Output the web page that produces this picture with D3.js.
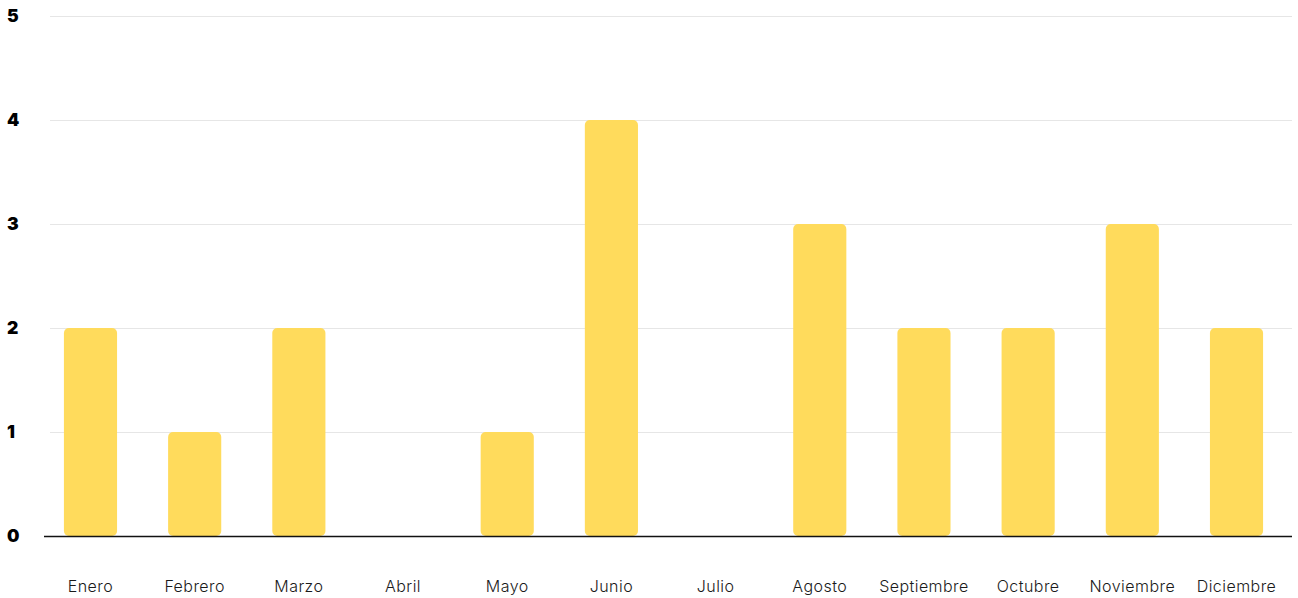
<!DOCTYPE html>
<html>
<head>
<meta charset="utf-8">
<script src="https://cdn.jsdelivr.net/npm/d3@7"></script>
<style>
  html, body { margin: 0; padding: 0; background: #ffffff; }
  svg { display: block; }
</style>
</head>
<body>
<svg id="chart" width="1298" height="598"></svg>
<script>
const months = ["Enero", "Febrero", "Marzo", "Abril", "Mayo", "Junio", "Julio", "Agosto", "Septiembre", "Octubre", "Noviembre", "Diciembre"];
const values = [2, 1, 2, 0, 1, 4, 0, 3, 2, 2, 3, 2];
const yTicks = [0, 1, 2, 3, 4, 5];

const svg = d3.select("#chart");

const x = d3.scaleBand()
  .domain(months)
  .range([38.4, 1288.6])
  .paddingInner(0.49)
  .paddingOuter(0.245);

const y = d3.scaleLinear().domain([0, 5]).range([536, 16]);

// gridlines
svg.append("g")
  .selectAll("line")
  .data(yTicks.filter(d => d > 0))
  .join("line")
  .attr("x1", 50).attr("x2", 1292)
  .attr("y1", d => y(d) + 0.5).attr("y2", d => y(d) + 0.5)
  .attr("stroke", "#e6e6e6")
  .attr("stroke-width", 1);

// y tick labels
svg.append("g")
  .selectAll("text")
  .data(yTicks)
  .join("text")
  .attr("x", 7)
  .attr("y", d => y(d) + 6)
  .attr("font-family", "Inter, 'Noto Sans', sans-serif")
  .attr("font-weight", 900)
  .attr("font-size", 17.5)
  .attr("fill", "#000")
  .text(d => d);

// bars
svg.append("g")
  .selectAll("rect")
  .data(months.map((m, i) => ({ m, v: values[i] })).filter(d => d.v > 0))
  .join("rect")
  .attr("x", d => x(d.m))
  .attr("y", d => y(d.v))
  .attr("width", x.bandwidth())
  .attr("height", d => y(0) - y(d.v))
  .attr("rx", 5).attr("ry", 5)
  .attr("fill", "#FFDB5C");

// baseline
svg.append("line")
  .attr("x1", 44).attr("x2", 1292)
  .attr("y1", y(0) + 0.5).attr("y2", y(0) + 0.5)
  .attr("stroke", "#111")
  .attr("stroke-width", 1.5);

// x labels
svg.append("g")
  .selectAll("text")
  .data(months)
  .join("text")
  .attr("x", d => x(d) + x.bandwidth() / 2)
  .attr("y", 592)
  .attr("text-anchor", "middle")
  .attr("font-family", "Inter, 'Noto Sans', sans-serif")
  .attr("font-size", 16)
  .attr("font-weight", 300)
  .attr("letter-spacing", 0.45)
  .attr("fill", "#1a1a1a")
  .text(d => d);
</script>
</body>
</html>
